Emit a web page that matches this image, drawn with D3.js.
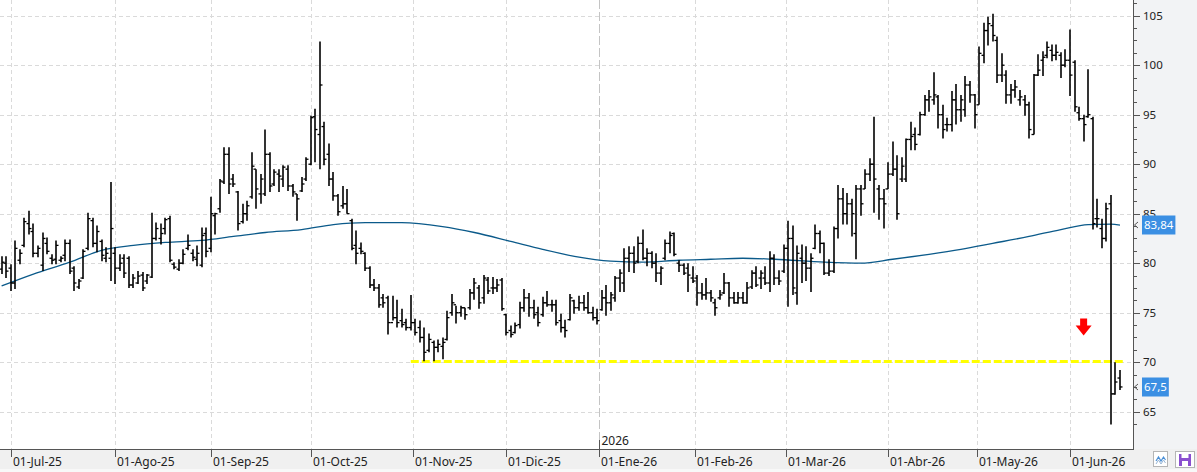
<!DOCTYPE html>
<html>
<head>
<meta charset="utf-8">
<script src="https://cdn.jsdelivr.net/npm/d3@7"></script>
<style>
html, body { margin: 0; padding: 0; background: #fff; }
svg { display: block; font-family: "Noto Sans", sans-serif; }
</style>
</head>
<body>
<svg id="chart" width="1197" height="472"></svg>
<script>
// daily OHLC, one value per trading session (27-Jun-25 .. 16-Jun-26)
var opens = [79.4,80.0,79.5,78.0,80.3,81.8,84.0,83.2,81.0,79.8,82.0,80.5,80.4,80.3,80.8,82.0,79.5,77.6,78.5,81.5,
  84.3,82.0,82.2,80.5,80.5,81.0,79.5,80.5,80.5,77.8,78.0,78.8,78.2,78.6,82.5,82.5,83.5,84.5,79.9,79.4,
  80.0,81.5,81.0,80.4,79.8,83.0,81.5,84.8,85.5,88.2,91.0,88.5,87.2,84.2,85.0,86.7,89.5,87.0,87.0,91.0,
  88.0,89.0,88.5,89.5,87.8,87.0,87.3,88.5,90.0,94.8,93.0,93.8,91.0,88.5,86.8,85.8,86.0,84.3,81.8,81.5,
  81.0,79.5,77.8,77.5,76.5,76.5,74.0,74.5,74.2,74.0,73.5,74.0,73.5,72.5,71.2,72.0,71.5,71.6,72.3,75.0,
  75.8,75.0,75.5,75.5,77.0,77.5,76.5,78.3,77.5,77.5,78.3,74.8,73.2,73.0,73.8,75.5,76.5,75.5,75.0,74.8,
  76.0,75.8,75.8,74.2,73.5,74.3,76.2,75.5,76.0,75.5,75.0,74.5,75.3,76.5,76.0,76.5,78.5,78.0,80.5,81.0,
  80.2,82.0,80.5,81.0,80.0,79.0,80.5,82.0,83.0,80.0,79.8,79.5,78.5,78.5,77.0,76.8,77.0,76.0,76.5,77.0,
  78.0,76.5,76.0,76.5,76.0,77.6,79.0,78.5,78.5,78.0,80.5,78.5,79.2,81.5,82.5,77.0,80.5,80.0,79.5,81.5,
  83.0,82.0,79.0,79.2,83.5,86.5,85.0,86.0,83.0,87.5,87.5,89.0,90.0,87.5,86.5,87.5,89.0,89.5,88.5,88.5,
  92.5,93.0,93.0,95.0,96.5,96.5,96.8,95.0,94.0,94.0,96.5,95.5,95.5,98.0,97.0,96.0,101.0,103.5,104.0,102.5,
  99.0,99.0,97.0,97.5,96.5,96.5,96.0,93.0,99.0,100.5,101.0,101.5,101.0,101.0,100.0,100.5,100.3,95.2,94.6,94.8,
  94.6,84.5,83.5,82.5,86.0,66.8,68.4];
var highs = [80.7,80.7,79.9,82.3,81.4,84.6,85.3,84.0,81.8,83.1,82.6,80.9,82.3,80.7,82.4,82.4,79.7,78.4,81.4,85.1,
  84.6,83.8,82.4,81.6,88.2,81.6,80.9,80.9,80.7,78.9,79.2,79.1,78.9,85.1,84.1,84.0,84.6,84.8,80.1,80.4,
  81.4,82.9,81.4,81.8,83.6,83.6,86.7,85.1,88.5,91.7,91.7,89.0,87.3,86.0,86.3,91.2,89.5,89.0,93.5,91.2,
  89.5,89.5,89.9,89.9,88.0,87.0,88.7,90.7,94.9,95.6,102.4,94.3,92.1,89.2,87.0,87.8,87.5,84.5,83.3,82.1,
  81.1,79.7,78.4,77.9,76.9,76.7,76.7,76.3,75.4,74.4,76.8,74.4,74.2,73.5,72.9,72.2,72.3,72.5,75.2,76.9,
  75.7,75.7,75.5,77.4,78.5,77.8,78.8,78.6,78.6,78.4,78.5,74.9,73.7,74.0,76.1,77.4,77.0,76.3,75.6,76.6,
  77.2,76.3,76.3,74.9,74.3,76.9,76.3,76.7,76.8,77.1,75.6,75.4,77.3,77.8,77.1,78.7,79.4,81.5,81.7,81.7,
  82.7,83.4,81.5,81.2,81.0,79.7,82.4,83.2,83.1,80.3,80.0,80.0,79.7,78.8,78.0,78.5,77.3,76.4,77.3,79.0,
  78.1,77.1,77.1,77.1,78.1,79.3,79.7,79.3,79.7,81.2,80.9,79.3,81.9,84.3,83.8,81.8,81.9,81.7,81.0,83.9,
  83.3,82.1,80.4,83.7,87.9,87.6,87.1,86.5,87.9,87.9,89.5,90.6,94.8,87.9,87.5,90.2,92.3,90.9,90.7,92.6,
  94.3,93.7,95.3,97.0,97.5,99.3,97.0,96.0,94.7,97.4,98.1,97.0,98.9,98.4,97.1,101.9,104.3,104.9,105.2,102.9,
  101.2,99.5,98.1,98.5,97.5,97.0,96.3,99.1,101.1,101.4,102.4,102.1,102.1,101.3,101.6,103.6,100.5,95.8,95.0,99.6,
  94.8,86.5,84.5,86.1,86.9,70.0,69.2];
var lows = [78.9,78.5,77.2,77.4,79.9,81.6,82.9,80.6,80.6,79.2,80.9,79.9,79.9,80.1,80.2,78.9,77.2,77.4,78.4,81.3,
  81.6,81.1,80.2,80.1,78.2,77.9,79.2,78.5,77.5,77.5,77.9,77.2,77.9,78.5,82.3,81.9,82.9,80.1,79.4,79.2,
  79.9,81.3,80.2,79.7,79.6,80.6,81.1,82.9,85.1,88.0,87.0,87.7,83.3,84.0,84.3,86.5,85.5,86.0,86.8,87.2,
  87.8,87.2,87.7,87.3,86.7,84.3,87.2,88.3,89.9,90.2,89.5,89.9,87.8,86.3,84.8,85.5,85.0,81.3,79.9,80.9,
  79.2,77.5,77.2,75.5,75.5,72.8,74.2,73.5,73.5,73.2,73.2,72.7,72.0,70.1,71.0,70.1,71.0,70.3,72.2,74.7,
  73.9,74.6,74.3,75.3,76.3,75.4,75.9,76.9,76.9,77.1,75.2,72.7,72.5,72.9,73.4,75.1,74.6,74.4,73.6,74.6,
  75.6,75.1,73.7,73.0,72.5,74.2,74.9,75.2,75.2,74.9,74.2,73.8,75.2,74.7,75.2,76.1,77.1,77.1,79.1,79.0,
  80.0,80.3,79.7,79.5,78.1,77.8,80.3,81.0,80.7,79.1,78.8,77.1,78.0,75.7,76.3,76.3,76.1,74.7,76.3,76.9,
  75.6,75.9,75.9,75.9,75.9,77.4,77.6,77.4,77.8,77.1,77.8,77.8,79.0,75.6,76.8,75.8,78.0,78.2,77.1,81.4,
  81.0,78.8,78.7,79.0,82.5,83.9,83.9,82.7,80.4,84.8,87.5,88.3,85.1,84.4,83.5,87.5,88.8,84.4,88.2,88.2,
  91.4,91.4,92.9,94.9,95.3,96.0,93.6,92.6,93.3,93.3,94.0,94.3,94.8,96.2,93.6,96.0,100.2,102.0,102.4,98.2,
  98.3,96.1,96.1,96.7,95.9,94.9,92.6,93.0,98.9,98.9,100.7,100.4,100.5,98.7,99.8,96.9,95.3,94.4,92.3,94.7,
  83.4,83.6,81.5,82.2,63.7,66.7,67.2];
var closes = [80.1,79.2,78.0,81.5,81.0,84.2,83.5,81.0,81.5,82.5,81.2,80.3,81.8,80.5,82.0,79.2,78.0,78.2,81.2,84.5,
  82.0,83.2,80.8,81.0,83.5,79.5,80.0,79.0,77.8,78.5,78.7,77.5,78.8,82.5,83.5,83.0,84.4,80.3,79.6,80.0,
  80.9,81.8,80.6,81.0,82.8,81.2,85.0,85.0,88.3,91.0,88.0,88.0,84.0,85.0,85.8,89.8,87.5,88.5,91.0,87.8,
  89.2,88.8,89.7,87.8,87.2,86.5,88.0,90.5,94.7,93.5,98.0,90.5,88.5,86.8,85.2,86.0,85.0,81.5,81.0,81.2,
  79.5,77.8,77.5,75.8,76.0,74.0,74.5,74.0,73.8,73.5,74.0,73.0,72.5,71.0,72.3,71.5,71.8,72.0,74.5,76.0,
  75.0,75.5,74.8,77.0,78.0,76.0,78.5,77.2,77.5,77.8,75.4,73.0,72.8,73.7,75.5,76.5,75.5,74.8,74.0,76.0,
  75.8,75.8,74.0,73.5,73.2,76.5,75.5,76.0,75.5,75.0,74.5,74.2,76.5,76.0,76.8,78.5,79.0,80.5,81.0,80.0,
  82.0,80.5,81.0,80.0,79.0,79.5,82.0,82.8,80.9,79.8,79.0,78.8,78.2,77.0,76.8,77.0,76.5,75.5,76.8,78.0,
  76.5,76.0,76.5,76.0,77.5,79.0,77.8,79.0,78.0,80.5,78.5,78.2,81.5,82.5,77.5,81.0,80.0,79.5,80.5,83.0,
  82.0,79.0,79.2,83.5,86.5,85.0,86.0,85.0,87.5,86.0,89.0,90.0,88.5,86.5,86.0,89.0,89.5,85.0,89.8,92.5,
  92.8,92.0,95.0,96.5,96.8,97.0,95.0,93.5,94.0,96.5,95.5,96.5,98.0,97.0,95.0,101.2,103.5,104.2,103.0,99.0,
  100.0,97.0,97.5,97.8,96.8,96.0,93.5,99.0,99.5,100.8,101.8,101.0,101.3,100.0,100.5,99.0,95.8,94.6,94.0,95.0,
  84.0,84.5,82.5,85.5,66.8,68.0,67.5];

// moving average at some sessions (session number, value)
var maBar = [0,7,15,22,29,36,44,51,58,66,73,80,88,97,104,112,119,126,134,141,149,156,163,170,181,189,196,204,211,218,226,233,239,244,246];
var maVal = [77.7,78.9,80.1,81.3,81.8,82.1,82.3,82.7,83.1,83.4,83.9,84.1,84.1,83.7,83.1,82.2,81.4,80.7,80.2,80.1,80.3,80.4,80.5,80.4,80.1,80.0,80.4,80.9,81.4,82.0,82.7,83.4,83.9,83.95,83.84];

var firstDay = "2025-06-27", lastDay = "2026-06-16";
var holidays = ["2025-12-25","2025-12-26","2026-01-01","2026-04-03","2026-04-06","2026-05-01"];
var monthKeys = ["2025-07","2025-08","2025-09","2025-10","2025-11","2025-12","2026-01","2026-02","2026-03","2026-04","2026-05","2026-06"];
var monthLabels = ["01-Jul-25","01-Ago-25","01-Sep-25","01-Oct-25","01-Nov-25","01-Dic-25","01-Ene-26","01-Feb-26","01-Mar-26","01-Abr-26","01-May-26","01-Jun-26"];
var yTicks = [65,70,75,80,85,90,95,100,105];
var lastMA = 83.84, lastClose = 67.5;
var support = 70, supportFrom = "2025-10-31";
var arrowDay = "2026-06-04", arrowTip = 72.7;

var W = 1197, H = 472, axisX = 1133, axisY = 449;
var svg = d3.select("#chart");

var parse = d3.utcParse("%Y-%m-%d"), fmt = d3.utcFormat("%Y-%m-%d");
var days = d3.utcDays(parse(firstDay), d3.utcDay.offset(parse(lastDay), 1))
  .filter(function(d) { var w = d.getUTCDay(); return w !== 0 && w !== 6 && holidays.indexOf(fmt(d)) < 0; })
  .map(fmt);

var x = d3.scalePoint().domain(days).range([1.6, 1120]);
var y = d3.scaleLinear().domain([65, 105]).range([411.7, 15.7]);
var step = x.step();

// month tick position: first session, or half a step before it when the 1st is no session
function monthX(key) {
  var i = days.findIndex(function(d) { return d.slice(0, 7) === key; });
  var pos = x(days[i]);
  if (days[i].slice(8) !== "01") pos -= step / 2;
  return Math.round(pos) + 0.5;
}

// panels
svg.append("rect").attr("width", W).attr("height", H).attr("fill", "#fff");
svg.append("rect").attr("x", axisX).attr("y", 0).attr("width", W - axisX).attr("height", axisY).attr("fill", "#f2f3f5");
svg.append("rect").attr("x", 0).attr("y", axisY).attr("width", W).attr("height", 20).attr("fill", "#f0f0f0");
svg.append("rect").attr("x", 0).attr("y", 469).attr("width", W).attr("height", 3).attr("fill", "#f8f8f8");

// grid
var grid = svg.append("g");
grid.selectAll(".hg").data(yTicks).enter().append("line")
  .attr("x1", 0).attr("x2", axisX)
  .attr("y1", function(d) { return Math.round(y(d)) + 0.5; })
  .attr("y2", function(d) { return Math.round(y(d)) + 0.5; })
  .attr("stroke", "#dadada").attr("stroke-dasharray", "4,3");
grid.selectAll(".vg").data(monthKeys).enter().append("line")
  .attr("x1", monthX).attr("x2", monthX)
  .attr("y1", 0).attr("y2", axisY)
  .attr("stroke", function(d) { return d === "2026-01" ? "#c4c4c4" : "#dadada"; })
  .attr("stroke-dasharray", function(d) { return d === "2026-01" ? "9,3" : "4,3"; });

// support line
var sy = Math.round(y(support)) - 0.5;
svg.append("line")
  .attr("x1", x(supportFrom)).attr("x2", x(days[days.length - 1]) + 5)
  .attr("y1", sy).attr("y2", sy)
  .attr("stroke", "#ffff00").attr("stroke-width", 3).attr("stroke-dasharray", "8,3");

// moving average
var ma = maBar.map(function(b, i) { return [x(days[b]), y(maVal[i])]; });
svg.append("path").attr("d", d3.line().curve(d3.curveMonotoneX)(ma))
  .attr("fill", "none").attr("stroke", "#0b5a8a").attr("stroke-width", 1.3);

// OHLC bars
var bars = svg.append("g").attr("stroke", "#000");
var data = days.map(function(d, i) { return { d: d, o: opens[i], h: highs[i], l: lows[i], c: closes[i] }; });
var g = bars.selectAll("g").data(data).enter().append("g");
g.append("line")
  .attr("x1", function(d) { return Math.round(x(d.d)); }).attr("x2", function(d) { return Math.round(x(d.d)); })
  .attr("y1", function(d) { return y(d.h); }).attr("y2", function(d) { return y(d.l); })
  .attr("stroke-width", 1.6);
g.append("line")
  .attr("x1", function(d) { return Math.round(x(d.d)) - 2.5; }).attr("x2", function(d) { return Math.round(x(d.d)); })
  .attr("y1", function(d) { return y(d.o); }).attr("y2", function(d) { return y(d.o); })
  .attr("stroke-width", 1.3);
g.append("line")
  .attr("x1", function(d) { return Math.round(x(d.d)); }).attr("x2", function(d) { return Math.round(x(d.d)) + 2.5; })
  .attr("y1", function(d) { return y(d.c); }).attr("y2", function(d) { return y(d.c); })
  .attr("stroke-width", 1.3);

// red arrow
var ax = x(arrowDay), ay = y(arrowTip);
svg.append("path")
  .attr("d", "M" + (ax - 3.5) + "," + (ay - 17) + "h7v7h4.5l-8,10l-8,-10h4.5z")
  .attr("fill", "#ff0000");

// right axis
svg.append("line").attr("x1", axisX + 0.5).attr("x2", axisX + 0.5).attr("y1", 0).attr("y2", axisY)
  .attr("stroke", "#555");
svg.append("g").selectAll("line").data(d3.range(63.75, 106.5, 1.25)).enter().append("line")
  .attr("x1", axisX).attr("x2", function(d) { return d % 5 === 0 ? axisX + 7 : axisX + 4; })
  .attr("y1", function(d) { return Math.round(y(d)) + 0.5; })
  .attr("y2", function(d) { return Math.round(y(d)) + 0.5; })
  .attr("stroke", "#555");
svg.append("g").selectAll("text").data(yTicks).enter().append("text")
  .attr("x", axisX + 10).attr("y", function(d) { return y(d) + 4; })
  .attr("font-size", 11.5).attr("fill", "#222")
  .text(function(d) { return d; });

// last value tags (drawn over the axis labels, as in the source)
[[lastMA, "83,84"], [lastClose, "67,5"]].forEach(function(t) {
  var ty = Math.round(y(t[0]));
  var tag = svg.append("g");
  var txt = tag.append("text").attr("x", axisX + 11).attr("y", ty + 4)
    .attr("font-size", 11.5).attr("fill", "#fff").text(t[1]);
  var w = txt.node().getComputedTextLength();
  tag.insert("rect", "text").attr("x", axisX + 9).attr("y", ty - 9.5)
    .attr("width", w + 4).attr("height", 19).attr("fill", "#3b8fe3");
  svg.append("path").attr("d", "M" + (axisX + 5) + "," + (ty - 3) + "L" + (axisX + 1.5) + "," + ty + "L" + (axisX + 5) + "," + (ty + 3))
    .attr("fill", "none").attr("stroke", "#555");
});

// bottom axis
svg.append("line").attr("x1", 0).attr("x2", axisX + 1).attr("y1", axisY + 0.5).attr("y2", axisY + 0.5)
  .attr("stroke", "#555");
var mt = svg.append("g").selectAll("g").data(monthKeys).enter().append("g");
mt.append("line").attr("x1", monthX).attr("x2", monthX).attr("y1", axisY).attr("y2", axisY + 8)
  .attr("stroke", "#555");
mt.append("text").attr("x", function(d) { return monthX(d) + 1.5; }).attr("y", 466)
  .attr("font-size", 12).attr("fill", "#222")
  .text(function(d, i) { return monthLabels[i]; });
var yearX = monthX("2026-01");
svg.append("line").attr("x1", yearX).attr("x2", yearX).attr("y1", axisY - 9).attr("y2", axisY).attr("stroke", "#555");
svg.append("text").attr("x", yearX + 2).attr("y", 445).attr("font-size", 12).attr("fill", "#222").text("2026");

// corner buttons
var b1 = svg.append("g");
b1.append("rect").attr("x", 1153.5).attr("y", 451.5).attr("width", 14).attr("height", 15).attr("fill", "#fff").attr("stroke", "#b5b5b5");
b1.append("path").attr("d", "M1156,461 l2.5,-4 l2.5,4 l2.5,-4 l2,3").attr("fill", "none").attr("stroke", "#4a8fd6").attr("stroke-width", 1.2);
b1.append("path").attr("d", "M1156,464 l2.5,-4 l2.5,4 l2.5,-4 l2,3").attr("fill", "none").attr("stroke", "#9ab7d6").attr("stroke-width", 1);
var b2 = svg.append("g");
b2.append("rect").attr("x", 1175.5).attr("y", 451.5).attr("width", 19).attr("height", 16).attr("fill", "#fff").attr("stroke", "#b5b5b5");
b2.append("rect").attr("x", 1179).attr("y", 454).attr("width", 12).attr("height", 12).attr("fill", "#8a4fcf");
b2.append("rect").attr("x", 1181.5).attr("y", 454).attr("width", 7).attr("height", 4).attr("fill", "#fff");
b2.append("rect").attr("x", 1182).attr("y", 461).attr("width", 6).attr("height", 5).attr("fill", "#fff");
</script>
</body>
</html>
